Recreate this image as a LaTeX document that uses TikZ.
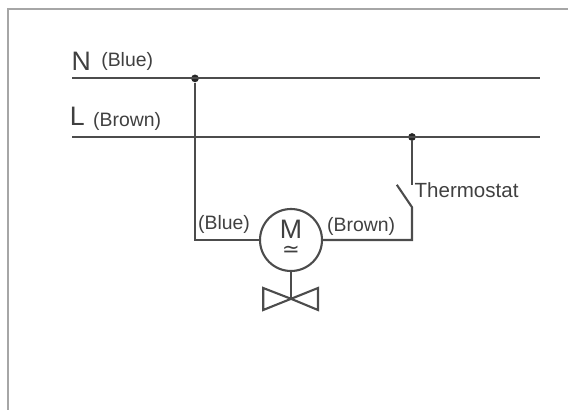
\documentclass[tikz,border=0pt]{standalone}
\usepackage{fontspec}
\setmainfont{Liberation Sans}
\newfontfamily\symbolfont{DejaVu Sans}
\definecolor{wirecolor}{gray}{0.3}
\definecolor{labelcolor}{gray}{0.25}
\tikzset{
  wire/.style={line width=1.5pt, draw=wirecolor, line join=miter},
  framewire/.style={line width=1.1pt, draw=gray!70},
  junction/.style={circle, fill=black!85, inner sep=0pt, minimum size=5.5pt},
  motor/.style={circle, line width=1.5pt, draw=wirecolor, fill=white, inner sep=0pt, minimum size=1.55cm},
  wirelabel/.style={text=labelcolor, inner sep=0pt, font=\fontsize{13.8}{16}\selectfont},
  linelabel/.style={text=labelcolor, inner sep=0pt, font=\fontsize{19}{21}\selectfont}
}
\begin{document}
\begin{tikzpicture}

        \useasboundingbox (0,0) rectangle (14.2,10.25);

        %Frame
        \coordinate (frameBottom) at (0.2,0);
        \coordinate (frameCorner) at (0.2,10.03);
        \coordinate (frameRight)  at (14.2,10.03);
        \draw [framewire] (frameBottom) -- (frameCorner) -- (frameRight);

        %Neutral line
        \coordinate (nStart) at (1.8,8.29);
        \coordinate (nEnd)   at (13.5,8.29);
        \node [junction] (nJoin) at (4.875,8.29) {};
        \draw [wire] (nStart) -- (nEnd);
        \node [linelabel] (nName) at (2.03,8.71) {N};
        \node [wirelabel] (nColour) at (3.18,8.72) {(Blue)};

        %Live line
        \coordinate (lStart) at (1.8,6.825);
        \coordinate (lEnd)   at (13.5,6.825);
        \node [junction] (lJoin) at (10.3,6.825) {};
        \draw [wire] (lStart) -- (lEnd);
        \node [linelabel] (lName) at (1.93,7.33) {L};
        \node [wirelabel] (lColour) at (3.18,7.22) {(Brown)};

        %Motor
        \node [motor] (motorBody) at (7.275,4.25) {};
        \node [text=labelcolor, inner sep=0pt, align=center, font=\fontsize{19}{13}\selectfont] (motorName) at (7.275,4.3) {M\\{\symbolfont\fontsize{15}{13}\selectfont ≃}};
        \node [wirelabel] (blueLabel) at (5.6,4.65) {(Blue)};
        \node [wirelabel] (brownLabel) at (9.03,4.6) {(Brown)};

        %Wire to the motor
        \draw [wire] (nJoin) |- (motorBody.west);

        %Thermostat
        \coordinate (switchTop)  at (10.3,5.62);
        \coordinate (switchFoot) at (10.3,5.07);
        \coordinate (switchArm)  at (9.92,5.63);
        \draw [wire] (lJoin) -- (switchTop);
        \draw [wire] (motorBody.east) -| (switchFoot) -- (switchArm);
        \node [wirelabel, anchor=west, font=\fontsize{14.6}{16}\selectfont] (thermostatLabel) at (10.36,5.5) {Thermostat};

        %Valve
        \coordinate (valveCentre) at (7.275,2.78);
        \coordinate (valveLeftTop)  at (6.58,3.05);
        \coordinate (valveLeftLow)  at (6.58,2.5);
        \coordinate (valveRightTop) at (7.95,3.05);
        \coordinate (valveRightLow) at (7.95,2.5);
        \draw [wire] (motorBody.south) -- (valveCentre);
        \draw [wire] (valveCentre) -- (valveLeftTop) -- (valveLeftLow) -- (valveRightTop) -- (valveRightLow) -- cycle;

\end{tikzpicture}
\end{document}
